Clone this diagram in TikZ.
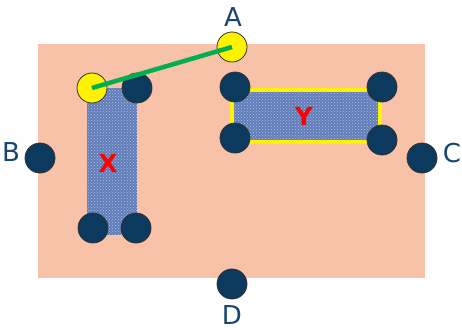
\documentclass[tikz,border=0pt]{standalone}
\usepackage{fontspec}
\setmainfont{DejaVu Sans}
\usetikzlibrary{patterns}
\definecolor{salmon}{RGB}{248,194,168}
\definecolor{navy}{RGB}{12,58,94}
\definecolor{denim}{RGB}{98,124,184}
\definecolor{denimlt}{RGB}{175,198,238}
\definecolor{lblue}{RGB}{25,70,110}
\definecolor{ggreen}{RGB}{0,176,80}
\tikzset{
  dot/.style={circle,draw=black!80,line width=0.8pt,fill=navy,minimum size=30pt,inner sep=0pt},
  ydot/.style={circle,draw=black!80,line width=0.8pt,fill=yellow,minimum size=30pt,inner sep=0pt},
  lbl/.style={text=lblue,font=\fontsize{26}{28}\selectfont,inner sep=0pt},
  rlbl/.style={text=red,font=\fontsize{25}{27}\selectfont,inner sep=0pt},
  denimfill/.style={fill=denim,postaction={pattern=crosshatch dots,pattern color=denimlt}},
}
\begin{document}
\begin{tikzpicture}[x=1pt,y=-1pt]
\useasboundingbox (0,0) rectangle (462,329);
\fill[salmon] (38,44) rectangle (425,278);
% X block
\path[denimfill] (87,88) rectangle (137,235);
% Y block
\path[denimfill] (232,90) rectangle (380,142);
\draw[yellow,line width=4pt] (232,90) rectangle (380,142);
% circles
\node[ydot] (p1) at (92,88) {};
\node[dot] (p2) at (137,88) {};
\node[ydot] (a) at (232,47) {};
\node[dot] (y1) at (235,87) {};
\node[dot] (y2) at (382,87) {};
\node[dot] (y3) at (235,138) {};
\node[dot] (y4) at (382,140) {};
\node[dot] (x1) at (93,228) {};
\node[dot] (x2) at (136,228) {};
\node[dot] (b) at (40,158) {};
\node[dot] (c) at (422,158) {};
\node[dot] (d) at (232,284) {};
\draw[ggreen,line width=4.5pt] (p1.center) -- (a.center);
% labels
\node[lbl] (la) at (233,17) {A};
\node[lbl] (lb) at (11,152) {B};
\node[lbl] (lc) at (452,153) {C};
\node[lbl] (ld) at (232,315) {D};
\node[rlbl] (lx) at (108,163) {\textbf{X}};
\node[rlbl] (ly) at (304,116) {\textbf{Y}};
\end{tikzpicture}
\end{document}
